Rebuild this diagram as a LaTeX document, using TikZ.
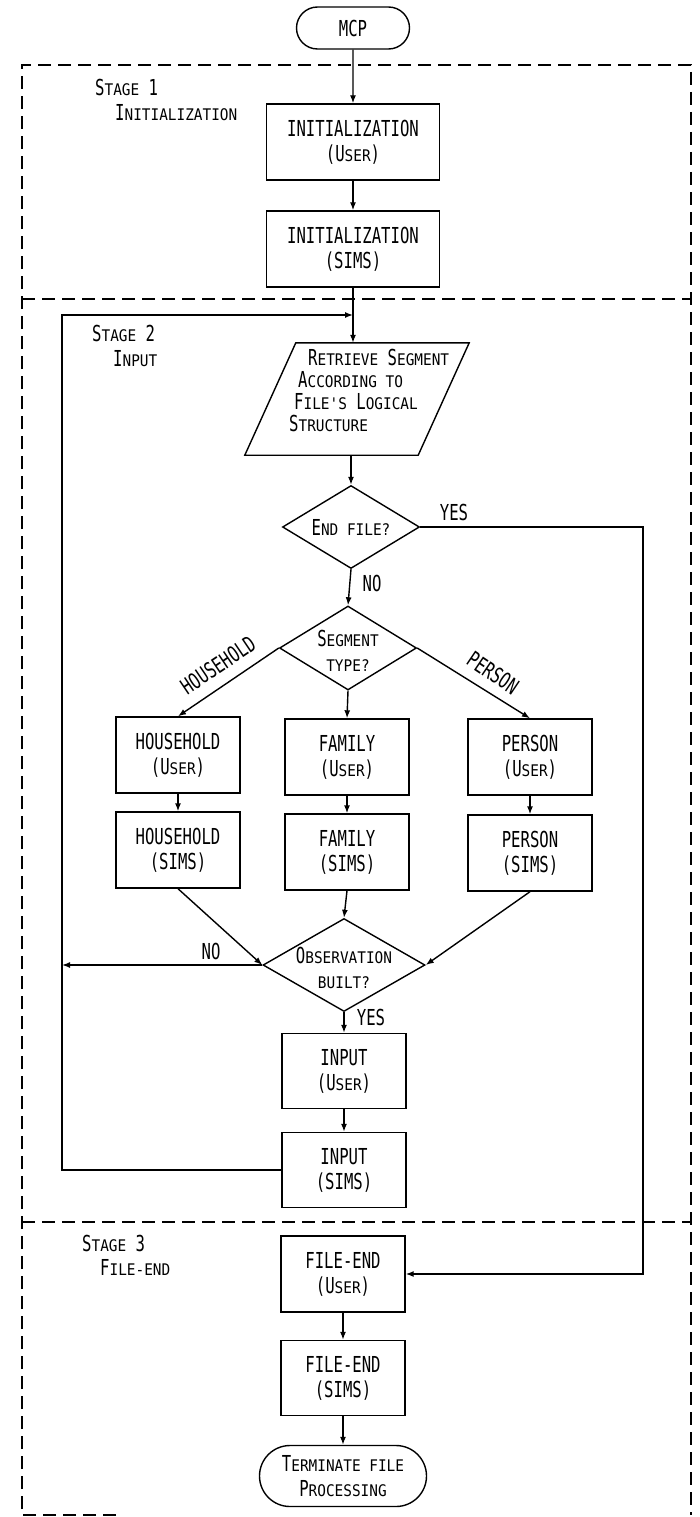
\documentclass[tikz,border=0pt]{standalone}
\usepackage{fontspec}
\setmainfont[FakeStretch=0.71]{DejaVu Sans Mono}
\newfontfamily\scfont[FakeStretch=0.9]{DejaVu Sans Mono}
\usetikzlibrary{shapes.geometric,shapes.misc,arrows.meta}
\newcommand\lsc[1]{{\scfont\fontsize{16}{25}\selectfont #1}}
\begin{document}
\begin{tikzpicture}[x=1pt,y=-1pt,
 every node/.style={font=\fontsize{22}{25}\selectfont, inner sep=0pt},
 box/.style={draw, line width=1.4pt, minimum width=124pt, minimum height=76pt, align=center},
 dia/.style={draw, diamond, line width=1.4pt, inner sep=1pt},
 dtxt/.style={align=center},
 termi/.style={draw, rounded rectangle, line width=1.4pt, align=center},
 arr/.style={line width=1.4pt, -{Latex[length=8pt,width=6pt]}},
 stg/.style={line width=1.3pt, dash pattern=on 13pt off 7pt},
 lbl/.style={anchor=west}]
\useasboundingbox (0,0) rectangle (700,1517);
% stage frames
\draw[stg] (116,1515) -- (22,1515) -- (22,65) -- (691,65) -- (691,1515);
\draw[stg] (22,299) -- (691,299);
\draw[stg] (22,1222) -- (691,1222);
% stage labels
\node[lbl] (s1a) at (95,87) {S\lsc{TAGE} 1};
\node[lbl] (s1b) at (115,113) {I\lsc{NITIALIZATION}};
\node[lbl] (s2a) at (92,333) {S\lsc{TAGE} 2};
\node[lbl] (s2b) at (113,359) {I\lsc{NPUT}};
\node[lbl] (s3a) at (82,1243) {S\lsc{TAGE} 3};
\node[lbl] (s3b) at (100,1267) {F\lsc{ILE-END}};
% nodes
\node[termi, minimum width=113pt, minimum height=42pt] (mcp) at (353,28) {MCP};
\node[box, minimum width=173pt] (initU) at (353,142) {INITIALIZATION\\(U\lsc{SER})};
\node[box, minimum width=173pt] (initS) at (353,249) {INITIALIZATION\\(SIMS)};
\node[minimum width=224pt, minimum height=112pt] (retr) at (357,399) {};
\draw[line width=1.4pt] ([xshift=51pt]retr.north west) -- (retr.north east) -- ([xshift=-51pt]retr.south east) -- (retr.south west) -- cycle;
\node[align=left, anchor=west, font=\fontsize{22}{22}\selectfont] (retrt) at (289,390) {\hspace*{19pt}R\lsc{ETRIEVE} S\lsc{EGMENT}\\ \hspace*{9pt}A\lsc{CCORDING TO}\\ \hspace*{5pt}F\lsc{ILE'S} L\lsc{OGICAL}\\ S\lsc{TRUCTURE}};
\node[dia, minimum width=137pt, minimum height=83pt, aspect=1.65] (endf) at (351,527) {};
\node[dtxt] (endft) at (endf) {E\lsc{ND FILE?}};
\node[dia, minimum width=137pt, minimum height=84pt, aspect=1.63] (segt) at (348,648) {};
\node[dtxt] (segtt) at (348,651) {S\lsc{EGMENT}\\\lsc{TYPE?}};
\node[box] (hhU) at (178,755) {HOUSEHOLD\\(U\lsc{SER})};
\node[box] (famU) at (347,757) {FAMILY\\(U\lsc{SER})};
\node[box] (perU) at (530,757) {PERSON\\(U\lsc{SER})};
\node[box] (hhS) at (178,850) {HOUSEHOLD\\(SIMS)};
\node[box] (famS) at (347,852) {FAMILY\\(SIMS)};
\node[box] (perS) at (530,853) {PERSON\\(SIMS)};
\node[dia, minimum width=162pt, minimum height=93pt, aspect=1.74] (obs) at (344,965) {};
\node[dtxt] (obst) at (344,968) {O\lsc{BSERVATION}\\\lsc{BUILT?}};
\node[box, minimum height=75pt] (inU) at (344,1071) {INPUT\\(U\lsc{SER})};
\node[box, minimum height=75pt] (inS) at (344,1170) {INPUT\\(SIMS)};
\node[box] (feU) at (343,1274) {FILE-END\\(U\lsc{SER})};
\node[box, minimum height=75pt] (feS) at (343,1378) {FILE-END\\(SIMS)};
\node[termi, minimum width=167pt, minimum height=61pt] (term) at (343,1476) {T\lsc{ERMINATE FILE}\\P\lsc{ROCESSING}};
% connectors
\coordinate (fbtop) at (62,315);
\coordinate (yesR) at (643,527);
\draw[arr] (mcp) -- (initU);
\draw[arr] (initU) -- (initS);
\draw[arr] (initS.south) -- (initS.south |- retr.north);
\draw[arr] (endf.north |- retr.south) -- (endf.north);
\draw[arr] (endf.east) -- (endf.east -| yesR) |- (feU.east);
\draw[arr] (endf.south) -- (segt.north);
\draw[arr] (segt.west) -- (hhU.north);
\draw[arr] (segt.south) -- (famU.north);
\draw[arr] (segt.east) -- (perU.north);
\draw[arr] (hhU) -- (hhS);
\draw[arr] (famU) -- (famS);
\draw[arr] (perU) -- (perS);
\draw[arr] (hhS.south) -- (obs.west);
\draw[arr] (famS.south) -- (obs.north);
\draw[arr] (perS.south) -- (obs.east);
\draw[arr] (obs.west) -- (obs.west -| fbtop);
\draw[arr] (obs.south) -- (inU.north);
\draw[arr] (inU) -- (inS);
\draw[arr] (inS.west) -| (fbtop) -- (initS.south |- fbtop);
\draw[arr] (feU) -- (feS);
\draw[arr] (feS) -- (term);
% connector labels
\node (lyes1) at (454,512) {YES};
\node (lno1) at (372,583) {NO};
\node[rotate=34] (lhh) at (218,665) {HOUSEHOLD};
\node[rotate=-34] (lper) at (493,673) {PERSON};
\node (lno2) at (211,951) {NO};
\node (lyes2) at (371,1017) {YES};
\end{tikzpicture}
\end{document}
